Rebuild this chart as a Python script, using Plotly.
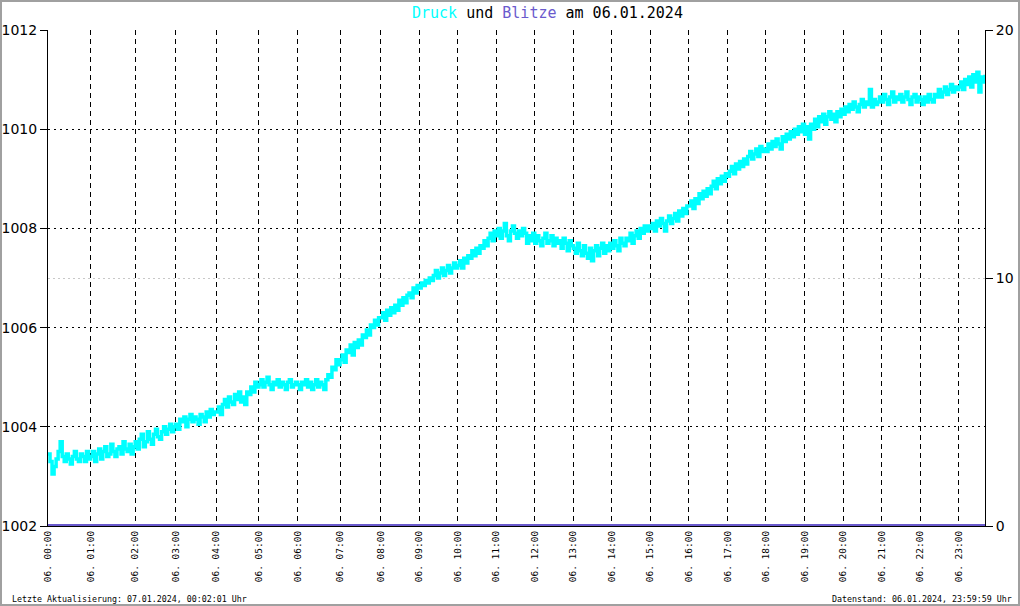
import plotly.graph_objects as go

# ---------------- data ----------------
hour_labels = [f"06. {h:02d}:00" for h in range(24)]

# pressure readings (hPa), grouped by hour of 06.01.2024
p_h00 = [1003.45, 1003.30, 1003.05, 1003.20, 1003.35, 1003.50, 1003.70, 1003.40, 1003.30, 1003.45, 1003.35, 1003.25, 1003.40, 1003.50, 1003.35, 1003.30, 1003.45, 1003.40, 1003.30, 1003.50, 1003.35]
p_h01 = [1003.40, 1003.50, 1003.30, 1003.45, 1003.55, 1003.35, 1003.50, 1003.60, 1003.40, 1003.45, 1003.65, 1003.50, 1003.40, 1003.55, 1003.60, 1003.45, 1003.70, 1003.55, 1003.50, 1003.65, 1003.45, 1003.60]
p_h02 = [1003.70, 1003.55, 1003.75, 1003.85, 1003.60, 1003.70, 1003.90, 1003.75, 1003.65, 1003.85, 1003.95, 1003.80, 1003.75, 1003.90, 1004.00, 1003.85, 1003.95, 1004.05, 1003.90, 1004.00]
p_h03 = [1004.05, 1003.95, 1004.15, 1004.10, 1004.20, 1004.00, 1004.15, 1004.25, 1004.10, 1004.20, 1004.15, 1004.05, 1004.25, 1004.20, 1004.10, 1004.30, 1004.20, 1004.35, 1004.25, 1004.30]
p_h04 = [1004.30, 1004.40, 1004.25, 1004.45, 1004.55, 1004.40, 1004.60, 1004.50, 1004.45, 1004.65, 1004.55, 1004.70, 1004.50, 1004.60, 1004.45, 1004.70, 1004.65, 1004.80, 1004.70, 1004.90, 1004.80]
p_h05 = [1004.85, 1004.95, 1004.80, 1004.90, 1005.00, 1004.85, 1004.75, 1004.90, 1004.85, 1004.95, 1004.80, 1004.90, 1004.85, 1004.75, 1004.90, 1004.95, 1004.80, 1004.85, 1004.90]
p_h06 = [1004.85, 1004.75, 1004.90, 1004.85, 1004.95, 1004.80, 1004.90, 1004.75, 1004.85, 1004.95, 1004.80, 1004.90, 1004.85, 1004.75, 1004.95, 1005.05, 1005.00, 1005.20, 1005.15, 1005.35, 1005.25]
p_h07 = [1005.35, 1005.45, 1005.30, 1005.55, 1005.50, 1005.65, 1005.45, 1005.70, 1005.60, 1005.75, 1005.65, 1005.85, 1005.80, 1005.95, 1005.85, 1006.05, 1006.00, 1006.15, 1006.05, 1006.20]
p_h08 = [1006.20, 1006.30, 1006.15, 1006.35, 1006.25, 1006.40, 1006.30, 1006.45, 1006.35, 1006.55, 1006.45, 1006.60, 1006.50, 1006.65, 1006.70, 1006.60, 1006.80, 1006.70, 1006.85]
p_h09 = [1006.80, 1006.90, 1006.85, 1006.95, 1006.90, 1007.00, 1006.95, 1007.05, 1007.15, 1007.00, 1007.10, 1007.20, 1007.05, 1007.15, 1007.25, 1007.10, 1007.20, 1007.30, 1007.20]
p_h10 = [1007.25, 1007.35, 1007.20, 1007.40, 1007.30, 1007.45, 1007.40, 1007.55, 1007.45, 1007.60, 1007.50, 1007.65, 1007.60, 1007.75, 1007.65, 1007.80, 1007.90, 1007.75, 1007.95]
p_h11 = [1007.85, 1008.00, 1007.80, 1007.95, 1008.10, 1007.85, 1007.75, 1007.95, 1008.05, 1007.90, 1007.80, 1007.95, 1007.85, 1008.00, 1007.90, 1007.70, 1007.85, 1007.75, 1007.90]
p_h12 = [1007.70, 1007.85, 1007.75, 1007.65, 1007.80, 1007.90, 1007.70, 1007.75, 1007.85, 1007.65, 1007.80, 1007.70, 1007.75, 1007.60, 1007.80, 1007.70, 1007.55, 1007.75, 1007.65]
p_h13 = [1007.60, 1007.50, 1007.70, 1007.55, 1007.45, 1007.65, 1007.50, 1007.40, 1007.60, 1007.35, 1007.55, 1007.65, 1007.45, 1007.60, 1007.70, 1007.50, 1007.65, 1007.55, 1007.70]
p_h14 = [1007.60, 1007.75, 1007.65, 1007.55, 1007.80, 1007.70, 1007.65, 1007.80, 1007.75, 1007.90, 1007.70, 1007.85, 1007.95, 1007.80, 1008.00, 1007.90, 1008.05, 1007.95, 1008.05]
p_h15 = [1008.00, 1008.10, 1007.95, 1008.15, 1008.05, 1008.20, 1008.10, 1007.95, 1008.15, 1008.25, 1008.10, 1008.20, 1008.30, 1008.15, 1008.35, 1008.25, 1008.40, 1008.30, 1008.45]
p_h16 = [1008.45, 1008.55, 1008.40, 1008.60, 1008.50, 1008.70, 1008.60, 1008.75, 1008.65, 1008.80, 1008.70, 1008.85, 1008.95, 1008.80, 1009.00, 1008.90, 1009.05, 1008.95, 1009.10]
p_h17 = [1009.05, 1009.15, 1009.25, 1009.10, 1009.30, 1009.20, 1009.35, 1009.25, 1009.40, 1009.30, 1009.45, 1009.55, 1009.40, 1009.50, 1009.60, 1009.45, 1009.65, 1009.55, 1009.60]
p_h18 = [1009.55, 1009.70, 1009.60, 1009.75, 1009.65, 1009.80, 1009.70, 1009.60, 1009.85, 1009.75, 1009.90, 1009.80, 1009.95, 1009.85, 1010.00, 1009.90, 1010.05, 1009.95, 1010.10]
p_h19 = [1009.90, 1010.05, 1009.80, 1010.10, 1010.00, 1010.20, 1010.05, 1010.25, 1010.15, 1010.30, 1010.10, 1010.25, 1010.35, 1010.20, 1010.30, 1010.15, 1010.35, 1010.25, 1010.40]
p_h20 = [1010.30, 1010.45, 1010.35, 1010.50, 1010.40, 1010.55, 1010.45, 1010.35, 1010.50, 1010.60, 1010.45, 1010.55, 1010.50, 1010.80, 1010.45, 1010.60, 1010.50, 1010.55, 1010.65]
p_h21 = [1010.55, 1010.70, 1010.60, 1010.50, 1010.65, 1010.75, 1010.55, 1010.65, 1010.60, 1010.70, 1010.55, 1010.65, 1010.75, 1010.60, 1010.50, 1010.65, 1010.70, 1010.55, 1010.65]
p_h22 = [1010.60, 1010.50, 1010.65, 1010.55, 1010.70, 1010.60, 1010.55, 1010.70, 1010.65, 1010.80, 1010.65, 1010.75, 1010.85, 1010.70, 1010.80, 1010.90, 1010.75, 1010.85, 1010.80]
p_h23 = [1010.85, 1010.95, 1010.80, 1011.00, 1010.90, 1011.05, 1010.85, 1011.10, 1010.95, 1011.15, 1010.75, 1011.05, 1010.95, 1011.10]

pressure_by_hour = [p_h00, p_h01, p_h02, p_h03, p_h04, p_h05, p_h06, p_h07, p_h08, p_h09,
                    p_h10, p_h11, p_h12, p_h13, p_h14, p_h15, p_h16, p_h17, p_h18, p_h19,
                    p_h20, p_h21, p_h22, p_h23]

pressure = [v for hour in pressure_by_hour for v in hour]
sample_index = list(range(len(pressure)))
lightning = [0] * len(pressure)

hour_start_index = []
acc = 0
for hour in pressure_by_hour:
    hour_start_index.append(acc)
    acc += len(hour)

title_date = "06.01.2024"
footer_left = "Letzte Aktualisierung: 07.01.2024, 00:02:01 Uhr"
footer_right = "Datenstand: 06.01.2024, 23:59:59 Uhr"

# ---------------- figure ----------------
CYAN = "#00ffff"
SLATE = "#6a5acd"
W, H = 1020, 606
ML, MR, MT, MB = 48, 35, 30, 80
PW, PH = W - ML - MR, H - MT - MB

fig = go.Figure()
fig.add_trace(go.Scatter(x=sample_index, y=lightning, yaxis="y2", mode="lines",
                         line=dict(color=SLATE, width=4), hoverinfo="skip", showlegend=False))
fig.add_trace(go.Scatter(x=sample_index, y=pressure, mode="lines",
                         line=dict(color=CYAN, width=3.5, shape="hv"), showlegend=False))

mono = "DejaVu Sans Mono"
fig.update_layout(
    width=W, height=H, autosize=False,
    margin=dict(l=ML, r=MR, t=MT, b=MB, pad=0),
    paper_bgcolor="white", plot_bgcolor="white",
    showlegend=False,
    xaxis=dict(
        range=[0, len(pressure) - 1], automargin=False,
        tickmode="array", tickvals=hour_start_index, ticktext=hour_labels,
        tickangle=-90, ticks="",
        tickfont=dict(family=mono, size=9.5, color="black"),
        showgrid=True, gridcolor="black", gridwidth=1, griddash="5px,4px",
        showline=True, linecolor="black", linewidth=1,
        zeroline=False,
    ),
    yaxis=dict(
        range=[1002, 1012], tick0=1002, dtick=2, automargin=False,
        ticks="outside", ticklen=7, tickcolor="black",
        tickfont=dict(family="DejaVu Sans", size=14, color="black"),
        showgrid=True, gridcolor="black", gridwidth=1, griddash="2px,4px",
        showline=True, linecolor="black", linewidth=1,
        zeroline=False,
    ),
    yaxis2=dict(
        overlaying="y", side="right", automargin=False,
        range=[0, 20], tick0=0, dtick=10,
        ticks="outside", ticklen=7, tickcolor="black",
        tickfont=dict(family="DejaVu Sans", size=14, color="black"),
        showgrid=True, gridcolor="#c8c8c8", gridwidth=1, griddash="2px,3px",
        showline=True, linecolor="black", linewidth=1,
        zeroline=False,
    ),
)

fig.add_annotation(
    xref="paper", yref="paper",
    x=(547 - ML) / PW, y=1 + (MT - 13) / PH,
    xanchor="center", yanchor="middle", showarrow=False,
    text=(f"<span style='color:{CYAN}'>Druck</span> und "
          f"<span style='color:{SLATE}'>Blitze</span> am {title_date}"),
    font=dict(family=mono, size=15, color="black"),
)
fig.add_annotation(
    xref="paper", yref="paper",
    x=-(ML - 10) / PW, y=-(599 - MT - PH) / PH,
    xanchor="left", yanchor="middle", showarrow=False,
    text=footer_left, font=dict(family=mono, size=8.3, color="black"),
)
fig.add_annotation(
    xref="paper", yref="paper",
    x=1 + (MR - 6) / PW, y=-(599 - MT - PH) / PH,
    xanchor="right", yanchor="middle", showarrow=False,
    text=footer_right, font=dict(family=mono, size=8.3, color="black"),
)

# grey frame around the whole image
fig.add_shape(type="rect", xref="paper", yref="paper",
              x0=-(ML - 1) / PW, x1=1 + (MR - 1) / PW,
              y0=-(MB - 1) / PH, y1=1 + (MT - 1) / PH,
              line=dict(color="#a0a0a0", width=2), fillcolor="rgba(0,0,0,0)", layer="above")

fig.write_html("out.html", config={"displayModeBar": False},
               post_script="document.body.style.margin='0';document.body.style.overflow='hidden';")
